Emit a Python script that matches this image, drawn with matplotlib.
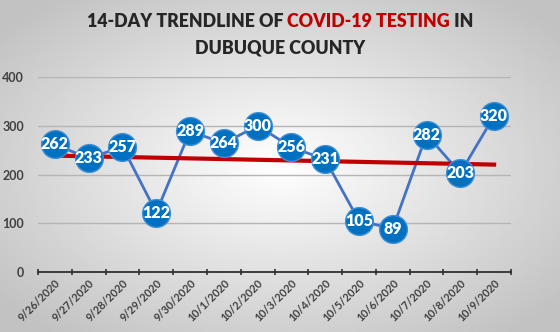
import matplotlib.pyplot as plt
import numpy as np

dates = ["9/26/2020", "9/27/2020", "9/28/2020", "9/29/2020", "9/30/2020",
         "10/1/2020", "10/2/2020", "10/3/2020", "10/4/2020", "10/5/2020",
         "10/6/2020", "10/7/2020", "10/8/2020", "10/9/2020"]
tests = [262, 233, 257, 122, 289, 264, 300, 256, 231, 105, 89, 282, 203, 320]

plt.rcParams['font.family'] = ['Lato', 'DejaVu Sans']

fig = plt.figure(figsize=(5.6, 3.32), dpi=100)

# radial grey background
bg = fig.add_axes([0, 0, 1, 1], zorder=-1)
yy, xx = np.mgrid[-1:1:200j, -1:1:300j]
r = np.sqrt(xx**2 + yy**2)
bg.imshow(1 - 0.24 * np.clip(r / 1.3, 0, 1), cmap='gray', vmin=0, vmax=1,
          aspect='auto', extent=[0, 1, 0, 1])
bg.axis('off')

ax = fig.add_axes([38 / 560, 60 / 332, 473 / 560, 195 / 332])
ax.patch.set_alpha(0)
x = np.arange(len(tests))

ax.plot(x, tests, color='#4472C4', lw=2, zorder=2)
ax.plot(x, tests, 'o', ms=20, color='#0070C0', mec='#3d8fd6', mew=1, zorder=3)
for xi, v in zip(x, tests):
    ax.text(xi, v, str(v), color='white', fontsize=11.5, fontweight='heavy',
            ha='center', va='center', zorder=4)

k, b = np.polyfit(x, tests, 1)
ax.plot(x, k * x + b, color='#C00000', lw=3, zorder=2.5)

ax.set_xlim(-0.5, len(tests) - 0.5)
ax.set_ylim(0, 400)
ax.set_yticks([0, 100, 200, 300, 400])
ax.grid(axis='y', color='#b5b5b5', lw=1)
ax.set_axisbelow(True)
ax.set_xticks(np.arange(len(tests) + 1) - 0.5, minor=False)
ax.set_xticklabels([])
ax.set_xticks(x, minor=True)
ax.set_xticklabels(dates, minor=True, rotation=45, ha='right', rotation_mode='anchor',
                   fontsize=7.8, fontweight='bold', color='#404040')
ax.tick_params(axis='x', which='major', length=4, color='#303030', width=1.2, direction='inout')
ax.tick_params(axis='x', which='minor', length=0, pad=4)
ax.tick_params(axis='y', length=0, labelsize=9, labelcolor='#404040', pad=10)
for t in ax.get_yticklabels():
    t.set_fontweight('bold')
for s in ['top', 'right', 'left']:
    ax.spines[s].set_visible(False)
ax.spines['bottom'].set_color('#303030')
ax.spines['bottom'].set_linewidth(1.3)

fs = 12.8
# first title line built from coloured pieces
parts = [("14-DAY TRENDLINE OF ", '#262626'), ("COVID-19 TESTING", '#C00000'), (" IN", '#262626')]
renderer = fig.canvas.get_renderer()
widths = []
texts = []
for s, c in parts:
    t = fig.text(0, 0.935, s, fontsize=fs, fontweight='heavy', color=c, va='center', ha='left')
    texts.append(t)
    widths.append(t.get_window_extent(renderer).width / fig.bbox.width)
x0 = 0.5 - sum(widths) / 2
for t, w in zip(texts, widths):
    t.set_x(x0)
    x0 += w
fig.text(0.5, 0.855, "DUBUQUE COUNTY", fontsize=fs, fontweight='heavy', color='#262626',
         ha='center', va='center')

fig.savefig('out.png', dpi=100)
